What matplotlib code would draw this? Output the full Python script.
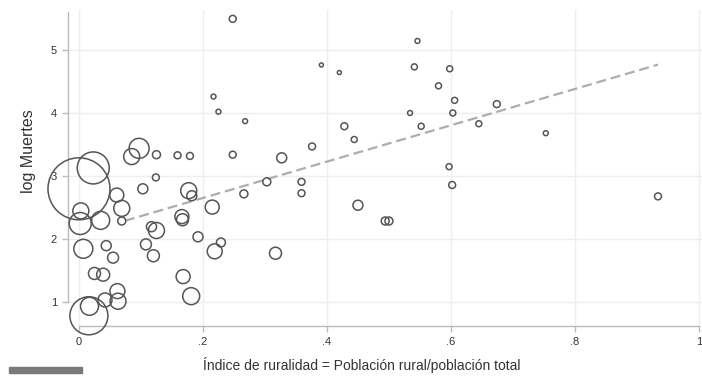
import numpy as np
import matplotlib
matplotlib.use("Agg")
import matplotlib.pyplot as plt
from matplotlib.patches import Rectangle

plt.rcParams["font.family"] = ["Liberation Sans", "DejaVu Sans"]

# indice de ruralidad, log muertes y peso (tamano del circulo)
indice = [0.000, 0.023, 0.016, 0.017, 0.042, 0.062, 0.063, 0.007, 0.044, 0.055,
          0.025, 0.039, 0.003, 0.002, 0.035, 0.061, 0.069, 0.069, 0.085, 0.097,
          0.125, 0.159, 0.179, 0.124, 0.103, 0.177, 0.182, 0.215, 0.166, 0.167,
          0.117, 0.125, 0.192, 0.108, 0.120, 0.229, 0.219, 0.168, 0.181, 0.217,
          0.225, 0.248, 0.248, 0.268, 0.327, 0.376, 0.391, 0.420, 0.428, 0.444,
          0.303, 0.266, 0.359, 0.359, 0.450, 0.494, 0.500, 0.317, 0.546, 0.541,
          0.598, 0.580, 0.606, 0.534, 0.603, 0.552, 0.645, 0.674, 0.753, 0.597,
          0.602, 0.934]
log_muertes = [2.80, 3.13, 0.79, 0.94, 1.04, 1.18, 1.02, 1.85, 1.90, 1.71,
               1.46, 1.44, 2.45, 2.25, 2.30, 2.70, 2.49, 2.29, 3.31, 3.44,
               3.34, 3.33, 3.32, 2.98, 2.80, 2.77, 2.69, 2.51, 2.36, 2.31,
               2.20, 2.14, 2.04, 1.92, 1.74, 1.95, 1.81, 1.41, 1.10, 4.26,
               4.02, 3.34, 5.49, 3.87, 3.29, 3.47, 4.76, 4.64, 3.79, 3.58,
               2.91, 2.72, 2.91, 2.73, 2.54, 2.29, 2.29, 1.78, 5.14, 4.73,
               4.70, 4.43, 4.20, 4.00, 4.00, 3.79, 3.83, 4.14, 3.68, 3.15,
               2.86, 2.68]
peso = [961, 256, 361, 81, 49, 56, 64, 90, 25, 30,
        36, 42, 64, 121, 81, 49, 64, 16, 64, 100,
        16, 12, 12, 12, 25, 64, 25, 49, 49, 36,
        25, 64, 25, 30, 36, 20, 56, 49, 72, 6,
        6, 12, 12, 6, 25, 12, 4, 4, 12, 9,
        16, 16, 12, 12, 25, 16, 16, 36, 6, 9,
        9, 9, 9, 6, 9, 9, 9, 12, 6, 9,
        12, 12]

# recta de ajuste
fit_x = [0.074, 0.934]
fit_intercepto = 2.08
fit_pendiente = 2.875

xticks = [0, 0.2, 0.4, 0.6, 0.8, 1.0]
xticklabels = ["0", ".2", ".4", ".6", ".8", "1"]
yticks = [1, 2, 3, 4, 5]

fig = plt.figure(figsize=(7.02, 3.76), dpi=100)
ax = fig.add_axes([68 / 702, 50 / 376, 634 / 702, 316 / 376])

sizes = np.array(peso) * (2 * 0.72) ** 2
ax.scatter(indice, log_muertes, s=sizes, facecolors="none",
           edgecolors="#555555", linewidths=1.1, zorder=3, clip_on=False)

fx = np.array(fit_x)
ax.plot(fx, fit_intercepto + fit_pendiente * fx, color="#adadad",
        linestyle=(0, (4.5, 2.2)), linewidth=1.6, zorder=2)

ax.set_xlim(-0.0177, 1.005)
ax.set_ylim(0.628, 5.63)
ax.set_xticks(xticks)
ax.set_xticklabels(xticklabels)
ax.set_yticks(yticks)
ax.grid(True, color="#eeeeee", linewidth=1.0, zorder=0)
ax.set_axisbelow(True)

for side in ["top", "right"]:
    ax.spines[side].set_visible(False)
for side in ["left", "bottom"]:
    ax.spines[side].set_color("#bbbbbb")
    ax.spines[side].set_linewidth(1.0)
ax.spines["left"].set_bounds(1, 5.6)
ax.spines["bottom"].set_bounds(0, 1.0)
ax.tick_params(colors="#333333", labelsize=8, length=4.5, width=1.0)
ax.tick_params(axis="both", color="#bbbbbb")

ax.set_xlabel("Índice de ruralidad = Población rural/población total",
              fontsize=10, color="#333333")
ax.xaxis.set_label_coords((362 - 68) / 634, -0.098)
ax.set_ylabel("log Muertes", fontsize=11.5, color="#333333")
ax.yaxis.set_label_coords(-0.05, (326 - 151) / 316)

# barra gris en la esquina inferior
fig.patches.append(Rectangle((9 / 702, 3 / 376), 73 / 702, 6 / 376,
                             transform=fig.transFigure, color="#7a7a7a"))

fig.savefig("out.png", dpi=100)
